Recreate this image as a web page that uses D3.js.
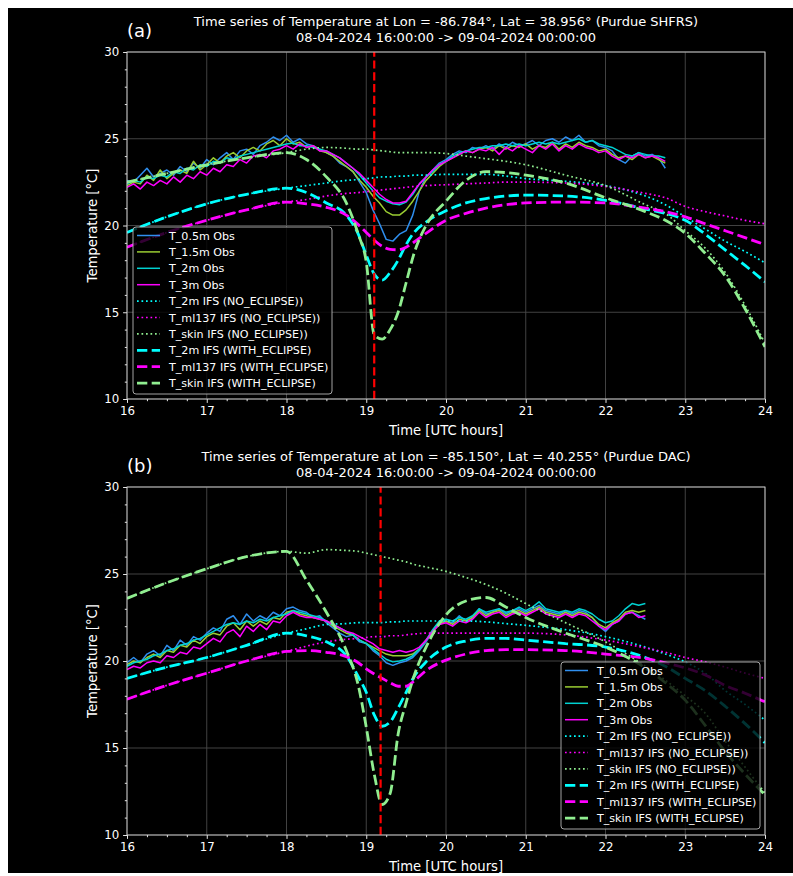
<!DOCTYPE html>
<html><head><meta charset="utf-8">
<script src="https://cdn.jsdelivr.net/npm/d3@7"></script>
<style>
body{margin:0;background:#fff}
svg{display:block}
text{font-family:"DejaVu Sans",sans-serif;fill:#fff}
</style>
</head><body>
<svg id="c" width="793" height="876"></svg>
<script>
// ---------------- DATA ----------------
const xTicks = [16,17,18,19,20,21,22,23,24];
const yTicks = [10,15,20,25,30];
const obsStepMin = 5; // observations every 5 min from 16:00

// Panel (a) observations (Purdue SHFRS)
const obs05A = [22.6,22.5,22.9,23.3,22.8,23.0,23.2,22.9,23.4,23.1,23.6,23.3,
 23.8,23.5,23.9,24.2,23.8,24.3,24.4,24.1,24.6,24.8,25.1,24.9,
 25.2,24.8,25.0,24.7,24.6,24.4,
 24.2,24.0,23.6,23.4,23.1,22.5,
 21.9,20.9,20.1,19.2,19.1,19.5,
 19.7,20.6,22.0,22.8,23.2,23.6,
 23.8,24.1,24.3,24.2,24.5,24.4,
 24.6,24.4,24.7,24.5,24.8,24.6,
 24.7,24.9,24.6,24.9,25.0,24.8,
 25.1,24.9,25.2,24.8,24.9,24.6,
 24.5,24.3,23.8,23.6,24.0,24.2,
 24.0,24.1,23.9,23.3];
const obs15A = [22.3,22.5,22.4,22.9,22.6,23.2,22.7,23.0,23.2,23.0,23.7,23.2,
 23.5,23.9,23.6,24.0,24.2,23.9,24.3,24.5,24.3,24.7,24.9,24.6,
 25.0,24.7,24.8,24.5,24.6,24.3,
 24.2,24.0,23.7,23.4,23.1,22.6,
 22.2,21.7,21.3,20.8,20.6,20.6,
 20.9,21.4,22.0,22.6,23.0,23.4,
 23.7,23.9,24.1,24.3,24.2,24.4,
 24.5,24.3,24.6,24.4,24.6,24.5,
 24.7,24.4,24.6,24.5,24.8,24.4,
 24.7,24.5,24.8,24.6,24.5,24.3,
 24.4,24.1,23.9,24.0,23.8,24.1,
 23.9,24.0,23.8,23.6];
const obs2A = [22.4,22.6,22.5,22.8,22.7,22.9,22.8,23.1,23.0,23.3,23.2,23.5,
 23.4,23.7,23.6,23.9,23.8,24.0,24.1,24.2,24.3,24.4,24.5,24.6,
 24.7,24.75,24.6,24.6,24.5,24.4,
 24.3,24.1,23.9,23.6,23.3,22.9,
 22.45,22.0,21.6,21.4,21.25,21.2,
 21.35,21.8,22.4,22.8,23.1,23.5,
 23.7,24.0,24.2,24.3,24.4,24.5,
 24.5,24.6,24.6,24.7,24.6,24.7,
 24.6,24.7,24.8,24.7,24.8,24.7,
 24.8,24.9,25.0,24.8,24.9,24.7,
 24.6,24.5,24.3,24.1,24.0,24.2,
 24.1,24.0,24.0,23.9];
const obs3A = [22.2,22.4,22.1,22.5,22.3,22.6,22.4,22.8,22.5,22.9,22.7,23.1,
 22.9,23.3,23.1,23.5,23.4,23.8,23.6,24.0,24.1,23.9,24.3,24.4,
 24.6,24.4,24.7,24.5,24.6,24.3,
 24.3,24.1,23.9,23.6,23.3,23.0,
 22.6,22.2,21.8,21.5,21.3,21.3,
 21.4,21.9,22.4,22.8,23.2,23.5,
 23.7,23.9,24.1,24.3,24.2,24.4,
 24.3,24.5,24.1,24.5,24.3,24.6,
 24.4,24.2,24.6,24.4,24.7,24.3,
 24.6,24.4,24.7,24.5,24.4,24.2,
 24.3,24.0,23.8,24.0,23.9,24.1,
 23.9,24.0,23.9,23.7];

// Panel (b) observations (Purdue DAC)
const obs05B = [19.9,20.2,19.9,20.4,20.6,20.3,20.9,20.6,21.2,20.9,21.4,21.2,
 21.6,21.9,21.7,22.4,22.6,22.1,22.7,22.3,22.6,22.4,22.8,22.6,
 23.0,23.1,22.9,22.8,22.5,22.6,
 22.2,21.9,21.6,21.4,21.5,21.1,
 21.0,20.6,20.3,19.9,19.75,19.9,
 20.0,20.2,20.6,21.1,21.7,22.2,
 22.3,22.2,22.6,22.3,22.5,23.0,
 22.7,22.8,23.0,22.7,22.9,23.0,
 22.8,23.0,23.2,22.9,22.8,22.7,
 22.9,22.7,22.9,22.8,22.5,22.0,
 21.7,22.1,22.3,22.7,22.8,22.6,
 22.4];
const obs15B = [19.8,20.0,19.9,20.2,20.4,20.2,20.6,20.5,20.9,20.8,21.2,21.0,
 21.4,21.6,21.5,22.0,22.2,21.8,22.3,22.0,22.3,22.1,22.5,22.4,
 22.8,22.9,22.7,22.6,22.5,22.4,
 22.3,22.0,21.8,21.6,21.5,21.2,
 21.0,20.8,20.6,20.4,20.3,20.3,
 20.3,20.4,20.7,21.2,21.7,22.1,
 22.3,22.1,22.4,22.3,22.5,22.9,
 22.6,22.8,22.9,22.6,22.8,22.9,
 22.7,22.9,23.1,22.8,22.7,22.6,
 22.8,22.6,22.8,22.7,22.5,22.1,
 21.9,22.2,22.4,22.8,22.9,22.8,
 22.9];
const obs2B = [19.7,19.9,20.0,20.1,20.3,20.4,20.6,20.7,20.9,21.0,21.2,21.3,
 21.5,21.7,21.9,22.1,22.2,22.1,22.3,22.2,22.4,22.3,22.5,22.6,
 22.7,22.9,22.8,22.7,22.6,22.5,
 22.3,22.1,21.9,21.7,21.5,21.2,
 21.0,20.7,20.4,20.1,19.95,20.0,
 20.1,20.3,20.7,21.2,21.8,22.3,
 22.4,22.3,22.5,22.4,22.6,23.0,
 22.8,22.9,23.0,22.8,22.9,23.1,
 22.9,23.1,23.4,23.0,22.9,22.8,
 22.9,22.8,23.0,22.9,22.7,22.4,
 22.2,22.3,22.6,23.0,23.3,23.2,
 23.3];
const obs3B = [19.5,19.7,19.6,19.9,20.0,19.9,20.3,20.2,20.5,20.4,20.8,20.7,
 21.0,21.3,21.1,21.6,21.8,21.4,22.0,21.7,22.1,21.8,22.3,22.2,
 22.6,22.8,22.6,22.5,22.5,22.4,
 22.3,22.1,21.9,21.7,21.6,21.4,
 21.2,21.0,20.7,20.6,20.5,20.6,
 20.5,20.6,20.8,21.2,21.7,22.1,
 22.2,22.0,22.3,22.2,22.4,22.8,
 22.5,22.7,22.8,22.5,22.7,22.8,
 22.6,22.8,23.0,22.7,22.6,22.5,
 22.7,22.5,22.7,22.6,22.3,22.0,
 21.8,22.1,22.3,22.7,22.8,22.5,
 22.6];

// IFS model output times (UTC hours)
const ifsTimes = [16,16.5,17,17.5,18,18.25,18.5,18.75,18.9,19.0,19.1,19.2,19.3,19.4,19.5,19.6,19.75,20,20.25,20.5,20.75,21,21.5,22,22.5,22.75,23,23.25,23.5,23.75,24];

// Panel (a) IFS
const t2mNoA   = [19.6,20.5,21.25,21.8,22.15,22.3,22.45,22.6,22.65,22.7,22.75,22.8,22.8,22.85,22.85,22.9,22.9,22.95,22.95,22.95,22.85,22.7,22.55,22.3,21.7,21.2,20.5,19.8,19.1,18.5,17.85];
const mlNoA    = [18.75,19.6,20.3,20.9,21.35,21.5,21.7,21.85,21.9,21.95,22.0,22.05,22.1,22.15,22.2,22.25,22.3,22.35,22.4,22.45,22.5,22.5,22.45,22.25,21.85,21.6,21.1,20.8,20.55,20.3,20.1];
const skinNoA  = [22.5,23.0,23.5,23.9,24.2,24.4,24.5,24.45,24.4,24.4,24.35,24.3,24.25,24.2,24.2,24.2,24.2,24.15,24.0,23.85,23.7,23.5,22.9,22.3,21.2,20.7,19.7,18.7,17.3,15.4,13.2];
const t2mWithA = [19.6,20.5,21.25,21.8,22.15,21.9,21.3,20.6,19.5,18.3,17.2,16.85,17.3,18.0,18.9,19.6,20.2,20.85,21.3,21.55,21.7,21.75,21.7,21.45,20.95,20.7,20.3,19.5,18.6,17.7,16.75];
const mlWithA  = [18.75,19.6,20.3,20.9,21.35,21.25,21.05,20.6,20.05,19.6,19.15,18.8,18.62,18.6,18.75,19.05,19.55,20.3,20.7,21.0,21.2,21.3,21.35,21.3,21.0,20.8,20.5,20.1,19.7,19.3,18.9];
const skinWithA= [22.5,23.0,23.5,23.9,24.2,23.8,22.8,21.3,19.5,17.9,13.7,13.45,14.0,15.0,16.7,18.4,20.0,21.4,22.6,23.1,23.05,22.9,22.45,21.6,20.8,20.3,19.55,18.4,17.1,15.2,13.0];

// Panel (b) IFS
const t2mNoB   = [19.0,19.65,20.2,20.9,21.6,21.85,22.1,22.15,22.2,22.2,22.2,22.2,22.25,22.25,22.3,22.3,22.3,22.3,22.3,22.25,22.15,22.05,21.8,21.4,20.8,20.4,19.95,19.3,18.3,17.5,16.6];
const mlNoB    = [17.8,18.6,19.3,20.0,20.55,20.85,21.1,21.25,21.3,21.35,21.4,21.4,21.45,21.45,21.5,21.55,21.6,21.6,21.6,21.6,21.6,21.6,21.5,21.2,20.75,20.5,20.2,19.95,19.65,19.3,19.0];
const skinNoB  = [23.6,24.5,25.3,26.0,26.3,26.2,26.4,26.35,26.3,26.2,26.1,26.0,25.9,25.8,25.7,25.55,25.4,25.15,24.8,24.4,23.9,23.3,22.2,21.1,19.7,18.9,18.0,17.0,15.4,13.9,12.4];
const t2mWithB = [19.0,19.65,20.2,20.9,21.6,21.45,21.1,20.3,19.1,18.2,16.9,16.25,16.5,17.3,18.2,19.1,19.95,20.8,21.15,21.3,21.3,21.2,21.0,20.8,20.2,19.7,19.0,18.3,17.4,16.4,15.3];
const mlWithB  = [17.8,18.6,19.3,20.0,20.55,20.6,20.5,20.25,19.9,19.55,19.25,19.0,18.75,18.55,18.55,18.85,19.45,20.05,20.4,20.6,20.65,20.65,20.6,20.4,20.15,19.9,19.6,19.2,18.6,18.15,17.65];
const skinWithB= [23.6,24.5,25.3,26.0,26.3,24.65,22.8,20.6,18.6,16.2,13.5,11.75,12.4,15.8,17.6,19.15,20.8,22.65,23.45,23.65,23.1,22.5,21.6,20.8,19.6,18.75,17.75,16.3,14.8,13.5,12.3];

const eclipseA = 19.1, eclipseB = 19.18;

const labels = ["T_0.5m Obs","T_1.5m Obs","T_2m Obs","T_3m Obs",
 "T_2m IFS (NO_ECLIPSE))","T_ml137 IFS (NO_ECLIPSE))","T_skin IFS (NO_ECLIPSE))",
 "T_2m IFS (WITH_ECLIPSE)","T_ml137 IFS (WITH_ECLIPSE)","T_skin IFS (WITH_ECLIPSE)"];

// ---------------- STYLE ----------------
const obsColors = ["#2f8fef","#9acd32","#00d2d2","#ff00ff"];
const ifsColors = ["#00ffff","#ff00ff","#90ee90"];
const styles = [
 {c:obsColors[0],w:1.5,d:null},{c:obsColors[1],w:1.5,d:null},{c:obsColors[2],w:1.5,d:null},{c:obsColors[3],w:1.5,d:null},
 {c:ifsColors[0],w:1.7,d:"1.7,2.8"},{c:ifsColors[1],w:1.7,d:"1.7,2.8"},{c:ifsColors[2],w:1.7,d:"1.7,2.8"},
 {c:ifsColors[0],w:2.8,d:"10.3,4.4"},{c:ifsColors[1],w:2.8,d:"10.3,4.4"},{c:ifsColors[2],w:2.8,d:"10.3,4.4"}
];

const svg = d3.select("#c");
svg.append("rect").attr("x",8).attr("y",8).attr("width",785).attr("height",865).attr("fill","#000");

const L = 127, R = 765;
const x = d3.scaleLinear().domain([16,24]).range([L,R]);

function panel(p){
  const y = d3.scaleLinear().domain([10,30]).range([p.bottom,p.top]);
  const g = svg.append("g");
  const cid = "clip"+p.id;
  svg.append("clipPath").attr("id",cid).append("rect")
    .attr("x",L).attr("y",p.top).attr("width",R-L).attr("height",p.bottom-p.top);

  // grid
  g.append("g").selectAll("line").data(xTicks).join("line")
    .attr("x1",d=>x(d)).attr("x2",d=>x(d)).attr("y1",p.top).attr("y2",p.bottom)
    .attr("stroke","#4a4a4a").attr("stroke-width",0.9);
  g.append("g").selectAll("line").data(yTicks).join("line")
    .attr("y1",d=>y(d)).attr("y2",d=>y(d)).attr("x1",L).attr("x2",R)
    .attr("stroke","#4a4a4a").attr("stroke-width",0.9);

  const lines = g.append("g").attr("clip-path",`url(#${cid})`);
  const lineObs = d3.line().x((d,i)=>x(16+i*obsStepMin/60)).y(d=>y(d));
  const lineIfs = d3.line().x((d,i)=>x(ifsTimes[i])).y(d=>y(d)).curve(d3.curveMonotoneX);
  const series = [
    [p.obs[0],lineObs],[p.obs[1],lineObs],[p.obs[2],lineObs],[p.obs[3],lineObs],
    [p.ifs[0],lineIfs],[p.ifs[1],lineIfs],[p.ifs[2],lineIfs],
    [p.ifs[3],lineIfs],[p.ifs[4],lineIfs],[p.ifs[5],lineIfs]
  ];
  series.forEach((s,k)=>{
    const st = styles[k];
    lines.append("path").attr("d",s[1](s[0])).attr("fill","none")
      .attr("stroke",st.c).attr("stroke-width",st.w)
      .attr("stroke-dasharray",st.d).attr("stroke-linejoin","round");
  });
  // eclipse line
  lines.append("line").attr("x1",x(p.eclipse)).attr("x2",x(p.eclipse))
    .attr("y1",p.bottom).attr("y2",p.top)
    .attr("stroke","#ff0000").attr("stroke-width",2.2).attr("stroke-dasharray","8.2,3.6");

  // axes
  const ax = g.append("g").attr("transform",`translate(0,${p.bottom})`)
    .call(d3.axisBottom(x).tickValues(xTicks).tickFormat(d3.format("d")).tickSize(3.9).tickPadding(3.8));
  const axm = g.append("g").attr("transform",`translate(0,${p.bottom})`)
    .call(d3.axisBottom(x).tickValues(d3.range(16,24.01,0.25).filter(v=>v%1!==0)).tickFormat("").tickSize(2.2));
  const ay = g.append("g").attr("transform",`translate(${L},0)`)
    .call(d3.axisLeft(y).tickValues(yTicks).tickFormat(d3.format("d")).tickSize(3.9).tickPadding(3.8));
  const aym = g.append("g").attr("transform",`translate(${L},0)`)
    .call(d3.axisLeft(y).tickValues(d3.range(10,30.01,1).filter(v=>v%5!==0)).tickFormat("").tickSize(2.2));
  [ax,axm,ay,aym].forEach(a=>{
    a.select(".domain").remove();
    a.selectAll("line").attr("stroke","#ffffff").attr("stroke-width",0.9);
    a.selectAll("text").attr("fill","#ffffff").style("font-size","11.8px").style("font-family","DejaVu Sans");
  });
  // spines
  g.append("rect").attr("x",L).attr("y",p.top).attr("width",R-L).attr("height",p.bottom-p.top)
    .attr("fill","none").attr("stroke","#d0d0d0").attr("stroke-width",0.9);

  // labels
  g.append("text").attr("x",(L+R)/2).attr("y",p.bottom+35.5).attr("text-anchor","middle")
    .style("font-size","13.2px").text("Time [UTC hours]");
  g.append("text").attr("transform",`translate(97,${(p.top+p.bottom)/2}) rotate(-90)`)
    .attr("text-anchor","middle").style("font-size","13.2px").text("Temperature [°C]");
  g.append("text").attr("x",(L+R)/2).attr("y",p.top-26).attr("text-anchor","middle")
    .style("font-size","13px").text(p.title1);
  g.append("text").attr("x",(L+R)/2).attr("y",p.top-10).attr("text-anchor","middle")
    .style("font-size","13px").text(p.title2);
  g.append("text").attr("x",L).attr("y",p.top-15).style("font-size","18px").text(p.tag);

  // legend
  const lg = g.append("g").attr("transform",`translate(${p.lx},${p.ly})`);
  lg.append("rect").attr("width",199).attr("height",167).attr("rx",3)
    .attr("fill","#000").attr("fill-opacity",0.8)
    .attr("stroke","#cccccc").attr("stroke-opacity",0.8).attr("stroke-width",1);
  labels.forEach((lab,k)=>{
    const yy = 8.5 + k*16.4;
    const st = styles[k];
    lg.append("line").attr("x1",4).attr("x2",27).attr("y1",yy).attr("y2",yy)
      .attr("stroke",st.c).attr("stroke-width",st.w).attr("stroke-dasharray",st.d);
    lg.append("text").attr("x",36).attr("y",yy+4).style("font-size","11.1px").text(lab);
  });
}

panel({id:"a",tag:"(a)",top:52,bottom:399,eclipse:eclipseA,
  title1:"Time series of Temperature at Lon = -86.784°, Lat = 38.956° (Purdue SHFRS)",
  title2:"08-04-2024 16:00:00 -> 09-04-2024 00:00:00",
  obs:[obs05A,obs15A,obs2A,obs3A],
  ifs:[t2mNoA,mlNoA,skinNoA,t2mWithA,mlWithA,skinWithA],
  lx:133,ly:227});
panel({id:"b",tag:"(b)",top:487,bottom:835,eclipse:eclipseB,
  title1:"Time series of Temperature at Lon = -85.150°, Lat = 40.255° (Purdue DAC)",
  title2:"08-04-2024 16:00:00 -> 09-04-2024 00:00:00",
  obs:[obs05B,obs15B,obs2B,obs3B],
  ifs:[t2mNoB,mlNoB,skinNoB,t2mWithB,mlWithB,skinWithB],
  lx:561,ly:662});
</script>
</body></html>
